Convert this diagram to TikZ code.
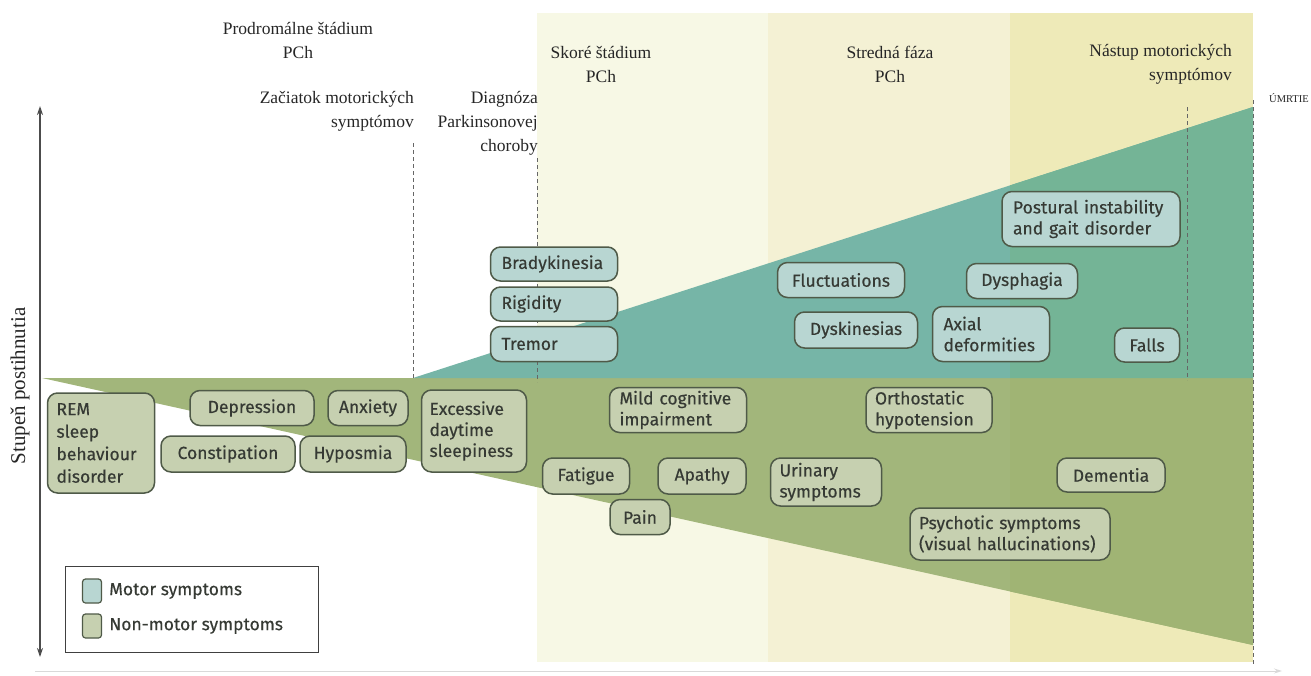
\documentclass[tikz,border=0pt]{standalone}
\usepackage{fontspec}
\setmainfont{Liberation Serif}
\newfontfamily\boxfont{Fira Sans}[FakeBold=0.35]
\usetikzlibrary{arrows.meta}
\definecolor{bandA}{HTML}{F7F8E5}
\definecolor{bandB}{HTML}{F4F1D4}
\definecolor{bandC}{HTML}{EEEAB8}
\definecolor{motwedge}{HTML}{76B5A7}
\definecolor{motwedgeC}{HTML}{74B496}
\definecolor{nonwedge}{HTML}{A2B67B}
\definecolor{nonwedgeC}{HTML}{A0B474}
\definecolor{motfill}{HTML}{B8D6D2}
\definecolor{nonfill}{HTML}{C6D0B0}
\definecolor{bord}{HTML}{4F5A48}
\definecolor{txt}{HTML}{363A34}
\begin{document}
\begin{tikzpicture}[x=1pt,y=-1pt,
  sym/.style={draw=bord, line width=1.5pt, rounded corners=10pt, text=txt,
    font=\boxfont\fontsize{17.5}{21}\selectfont, inner xsep=11pt, inner ysep=3pt},
  mot/.style={sym, fill=motfill},
  non/.style={sym, fill=nonfill},
  lab/.style={font=\fontsize{17.5}{24}\selectfont, inner sep=0pt, text=black!85},
  vdash/.style={line width=1pt, draw=black!60, dash pattern=on 4pt off 3pt},
  axisline/.style={line width=1.3pt, draw=black!70},
  legsq/.style={draw=bord, line width=1.2pt, rounded corners=3pt, minimum width=19pt, minimum height=24pt, inner sep=0pt},
  legtxt/.style={font=\boxfont\fontsize{17.5}{20}\selectfont, text=txt, inner sep=0pt, anchor=west}
]
\useasboundingbox (0,0) rectangle (1311,675);
% bands
\fill[bandA] (537,13) rectangle (768,662);
\fill[bandB] (768,13) rectangle (1010,662);
\fill[bandC] (1010,13) rectangle (1253,662);
% wedges
\fill[nonwedge] (42,378) -- (1253,378) -- (1253,645) -- cycle;
\fill[motwedge] (413,378) -- (1253,107) -- (1253,378) -- cycle;
\begin{scope}
  \clip (1010,0) rectangle (1253,675);
  \fill[nonwedgeC] (42,378) -- (1253,378) -- (1253,645) -- cycle;
  \fill[motwedgeC] (413,378) -- (1253,107) -- (1253,378) -- cycle;
\end{scope}
% dashed markers
\coordinate (d1t) at (413,143); \coordinate (d1b) at (413,378);
\coordinate (d2t) at (537,158); \coordinate (d2b) at (537,382);
\coordinate (d3t) at (1187,107); \coordinate (d3b) at (1187,380);
\coordinate (d4t) at (1253,100); \coordinate (d4b) at (1253,665);
\draw[vdash] (d1t) -- (d1b);
\draw[vdash] (d2t) -- (d2b);
\draw[vdash] (d3t) -- (d3b);
\draw[vdash] (d4t) -- (d4b);
% axes
\coordinate (ytop) at (40,106); \coordinate (ybot) at (40,657);
\draw[axisline, {Stealth[length=9pt,width=6pt]}-{Stealth[length=9pt,width=6pt]}] (ytop) -- (ybot);
\coordinate (xl) at (35,671); \coordinate (xr) at (1282,671);
\draw[line width=1pt, draw=black!15, -{Stealth[length=8pt,width=5pt]}] (xl) -- (xr);
\node[lab, rotate=90, font=\fontsize{21}{24}\selectfont] (ylab) at (20,386) {Stupeň postihnutia};
% top labels
\node[lab, align=center] (prod) at (298,40) {Prodromálne štádium\\PCh};
\node[lab, align=right, anchor=east] (zac) at (414,111) {Začiatok motorických\\symptómov};
\node[lab, align=right, anchor=east] (diag) at (538,123) {Diagnóza\\Parkinsonovej\\choroby};
\node[lab, align=center] (skore) at (601,64) {Skoré štádium\\PCh};
\node[lab, align=center] (stred) at (890,64) {Stredná fáza\\PCh};
\node[lab, align=right, anchor=east] (nast) at (1232,64) {Nástup motorických\\symptómov};
\node[lab, font=\fontsize{10.5}{12}\selectfont, anchor=east] (umrt) at (1309,98) {ÚMRTIE};
% motor symptoms
\node[mot, minimum width=127pt, minimum height=34pt, text width=105pt, align=left] (brady) at (554,264) {Bradykinesia};
\node[mot, minimum width=127pt, minimum height=34pt, text width=105pt, align=left] (rigid) at (554,304) {Rigidity};
\node[mot, minimum width=127pt, minimum height=35pt, text width=105pt, align=left] (tremor) at (554,344) {Tremor};
\node[mot, minimum width=127pt, minimum height=35pt] (fluct) at (841,280) {Fluctuations};
\node[mot, minimum width=123pt, minimum height=36pt] (dysk) at (856,330) {Dyskinesias};
\node[mot, minimum width=117pt, minimum height=55pt, text width=95pt, align=left] (axial) at (991,334) {Axial\\deformities};
\node[mot, minimum width=111pt, minimum height=35pt] (dysph) at (1022,281) {Dysphagia};
\node[mot, minimum width=178pt, minimum height=55pt, text width=156pt, align=left] (post) at (1091,219) {Postural instability\\and gait disorder};
\node[mot, minimum width=65pt, minimum height=34pt, inner xsep=6pt] (falls) at (1147,345) {Falls};
% non-motor symptoms
\node[non, minimum width=107pt, minimum height=100pt, text width=89pt, inner xsep=9pt, align=left, font=\boxfont\fontsize{17.5}{22.5}\selectfont] (rem) at (101,443) {REM\\sleep\\behaviour\\disorder};
\node[non, minimum width=124pt, minimum height=35pt] (depr) at (252,408) {Depression};
\node[non, minimum width=80pt, minimum height=35pt, inner xsep=6pt] (anx) at (368,408) {Anxiety};
\node[non, minimum width=134pt, minimum height=36pt] (const) at (228,454) {Constipation};
\node[non, minimum width=106pt, minimum height=36pt, inner xsep=6pt] (hypo) at (353,454) {Hyposmia};
\node[non, minimum width=105pt, minimum height=82pt, text width=89pt, inner xsep=8pt, align=left] (exc) at (474,431) {Excessive\\daytime\\sleepiness};
\node[non, minimum width=137pt, minimum height=45pt, text width=117pt, inner xsep=10pt, align=left] (mild) at (678,410) {Mild cognitive\\impairment};
\node[non, minimum width=87pt, minimum height=36pt, inner xsep=6pt] (fat) at (586,476) {Fatigue};
\node[non, minimum width=88pt, minimum height=36pt, inner xsep=6pt] (apa) at (702,476) {Apathy};
\node[non, minimum width=60pt, minimum height=35pt, inner xsep=5pt] (pain) at (640,517) {Pain};
\node[non, minimum width=126pt, minimum height=45pt, text width=108pt, inner xsep=9pt, align=left] (ortho) at (929,410) {Orthostatic\\hypotension};
\node[non, minimum width=111pt, minimum height=48pt, text width=93pt, inner xsep=9pt, align=left] (urin) at (826,482) {Urinary\\symptoms};
\node[non, minimum width=108pt, minimum height=34pt] (dem) at (1111,475) {Dementia};
\node[non, minimum width=200pt, minimum height=52pt, text width=182pt, inner xsep=9pt, align=left] (psych) at (1010,534) {Psychotic symptoms\\(visual hallucinations)};
% legend
\node[draw=black!75, line width=1pt, fill=white, minimum width=253pt, minimum height=86pt, inner sep=0pt] (legend) at (191.5,609) {};
\node[legsq, fill=motfill] (lm) at (92,591) {};
\node[legsq, fill=nonfill] (ln) at (92,626) {};
\node[legtxt] (lmt) at ([xshift=7pt]lm.east) {Motor symptoms};
\node[legtxt] (lnt) at ([xshift=7pt]ln.east) {Non-motor symptoms};
\end{tikzpicture}
\end{document}
